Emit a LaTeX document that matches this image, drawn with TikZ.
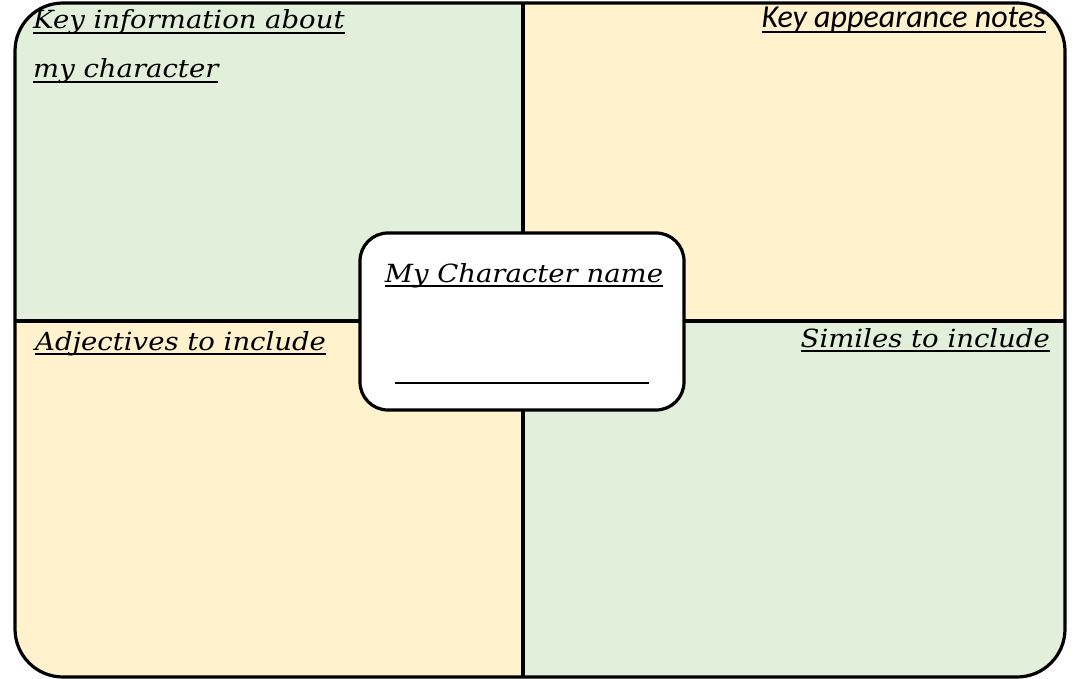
\documentclass[tikz,border=0pt]{standalone}
\usepackage{fontspec}
\newfontfamily\handfont[FakeStretch=1.1]{DejaVu Serif}
\newfontfamily\calfont{Carlito}
\definecolor{qgreen}{HTML}{E2EFDA}
\definecolor{qyellow}{HTML}{FFF2CC}
\newlength\myulw
\newcommand\myul[1]{\settowidth\myulw{#1}\rlap{\rule[-5pt]{\myulw}{1.8pt}}#1}
\tikzset{
  lbl/.style={inner sep=0pt, font=\handfont\itshape\fontsize{25}{30}\selectfont},
  lblcal/.style={inner sep=0pt, font=\calfont\itshape\fontsize{32}{36}\selectfont},
  divider/.style={line width=3.2pt},
}
\begin{document}
\begin{tikzpicture}[x=1pt,y=-1pt]
\useasboundingbox (0,0) rectangle (1079,679);
\begin{scope}
\clip[rounded corners=48pt] (15,3) rectangle (1065,677);
\fill[qgreen] (15,3) rectangle (523,321);
\fill[qyellow] (523,3) rectangle (1065,321);
\fill[qyellow] (15,321) rectangle (523,677);
\fill[qgreen] (523,321) rectangle (1065,677);
\end{scope}
\coordinate (vt) at (523,3);
\coordinate (vb) at (523,677);
\coordinate (hl) at (15,321);
\coordinate (hr) at (1065,321);
\draw[divider] (vt) -- (vb);
\draw[divider] (hl) -- (hr);
\draw[divider, rounded corners=48pt] (15,3) rectangle (1065,677);
\node[draw, line width=3.2pt, fill=white, rounded corners=28pt, minimum width=324pt, minimum height=177pt] (center) at (522,321.5) {};
\node[lbl, anchor=base] (name) at (524,282) {\myul{My Character name}};
\coordinate (ula) at (395,383);
\coordinate (ulb) at (649,383);
\draw[line width=2pt] (ula) -- (ulb);
\node[lbl, anchor=base west] (k1) at (33,29) {\myul{Key information about}};
\node[lbl, anchor=base west] (k2) at (33,78) {\myul{my character}};
\node[lblcal, anchor=base east] (ka) at (1046,28) {\myul{Key appearance notes}};
\node[lbl, anchor=base west] (adj) at (35,350) {\myul{Adjectives to include}};
\node[lbl, anchor=base east] (sim) at (1050,347) {\myul{Similes to include}};
\end{tikzpicture}
\end{document}
